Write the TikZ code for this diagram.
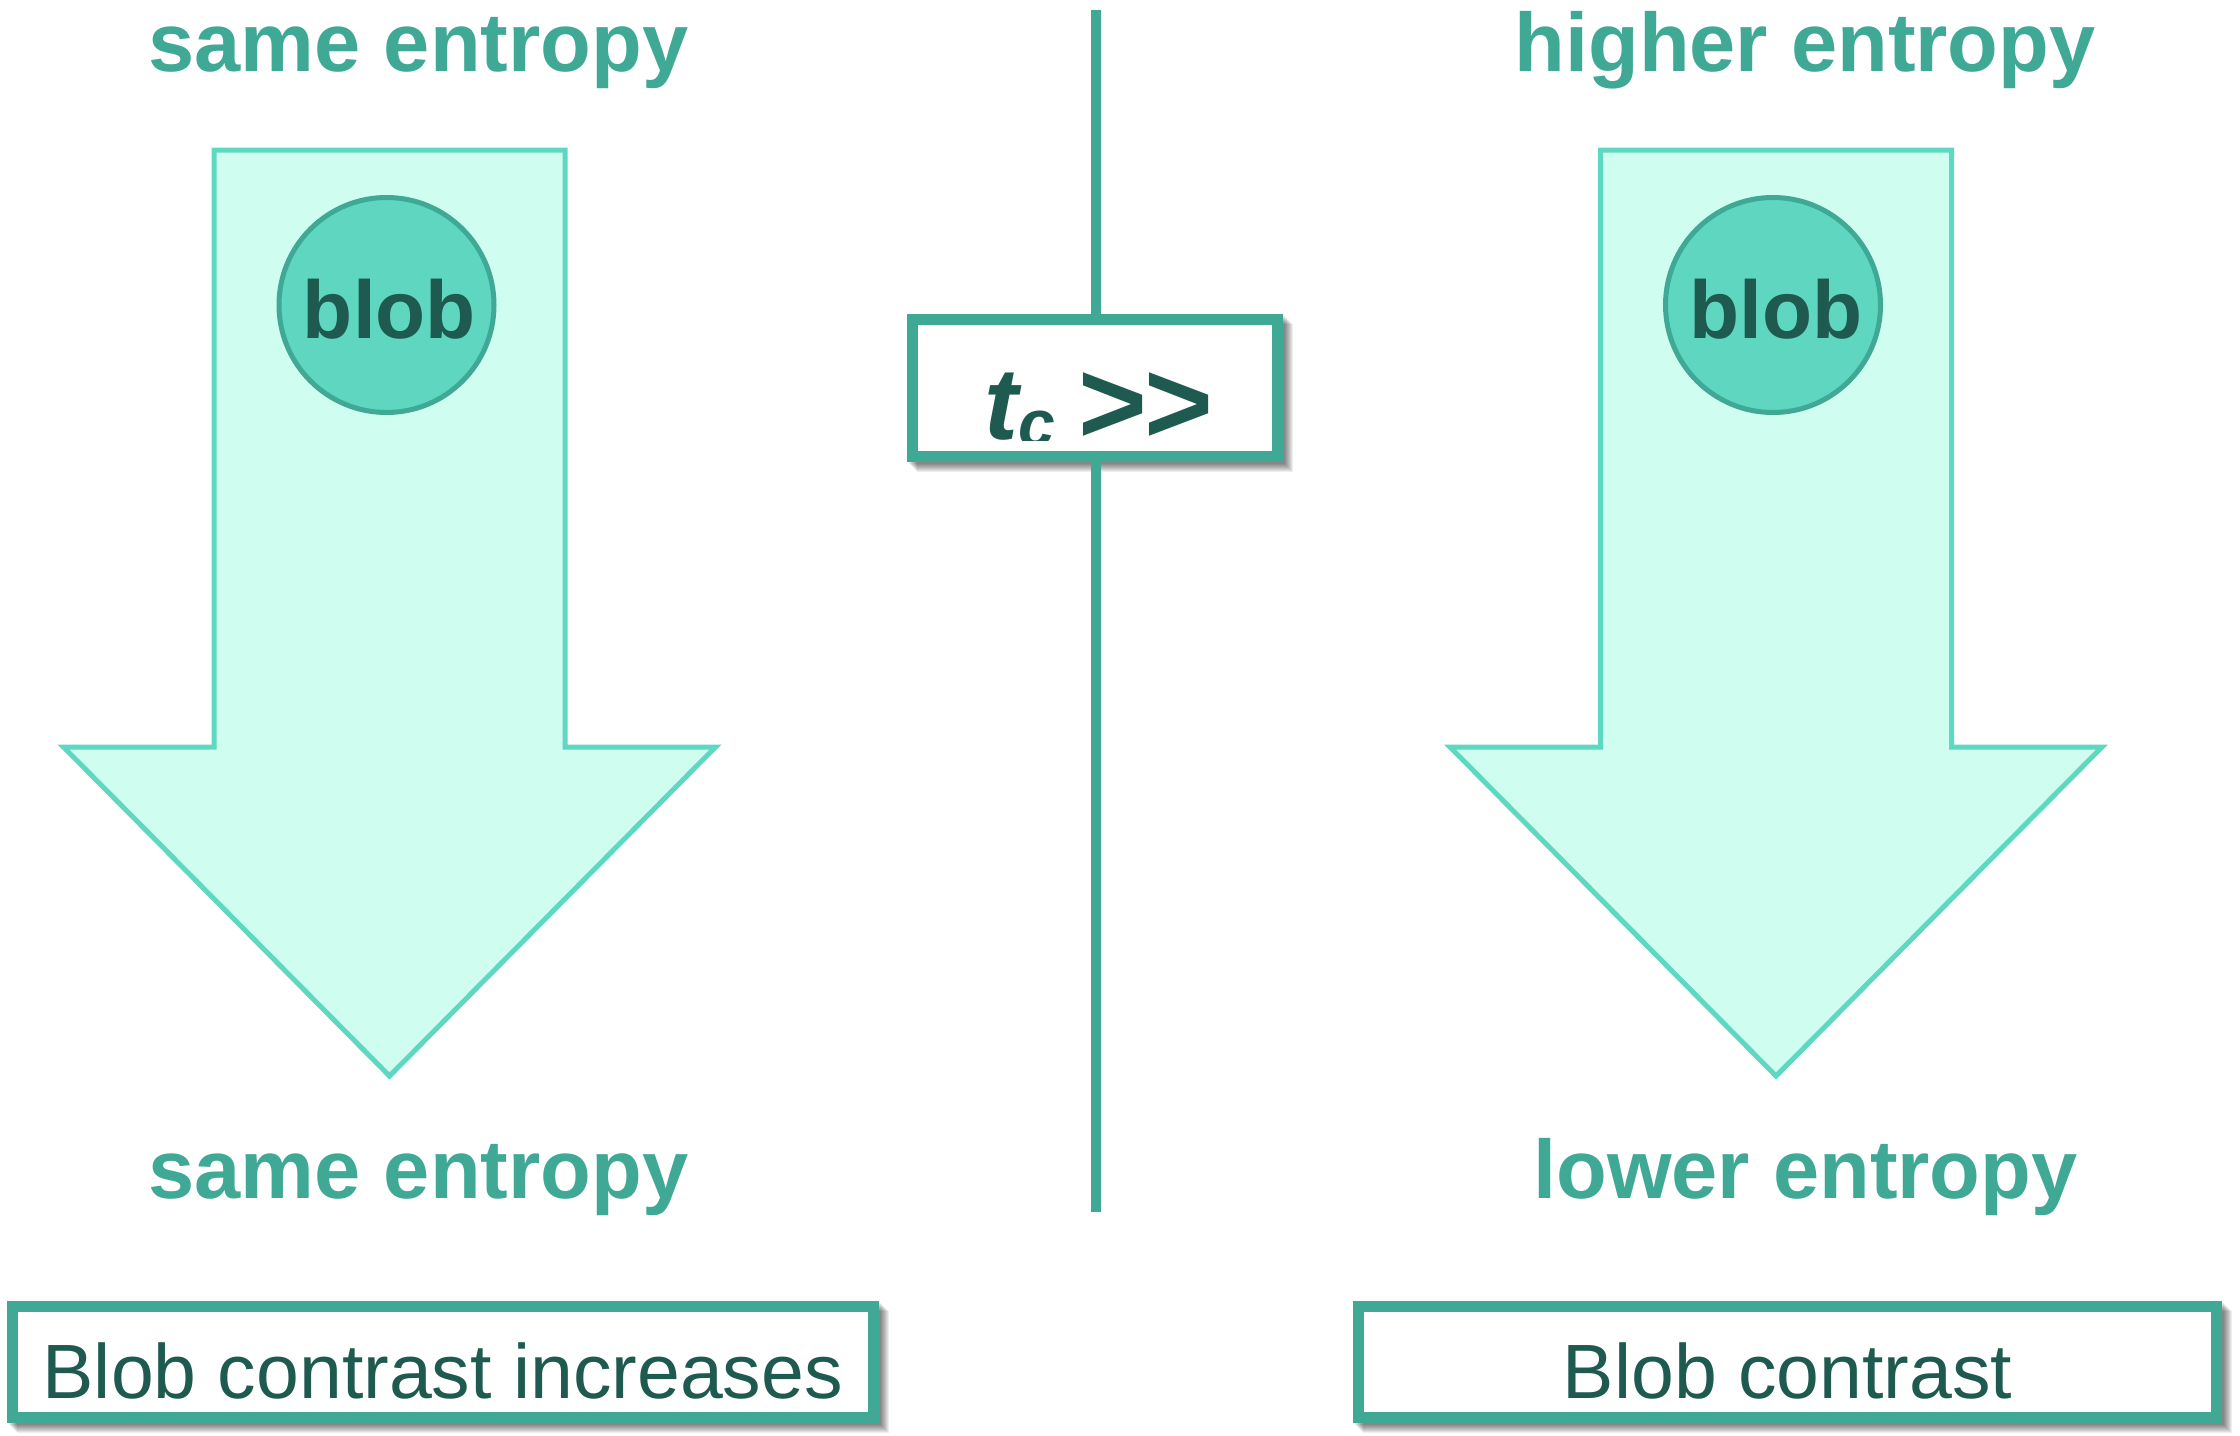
\documentclass[tikz,border=0pt]{standalone}
\usepackage{fontspec}
\setmainfont{Liberation Sans}
\usetikzlibrary{calc}
\definecolor{tealline}{RGB}{63,169,150}
\definecolor{mintstroke}{RGB}{94,216,193}
\definecolor{mintfill}{RGB}{207,253,240}
\definecolor{blobfill}{RGB}{94,214,192}
\definecolor{darkgreen}{RGB}{30,90,79}
\pgfdeclarelayer{paper}
\pgfdeclarelayer{bg}
\pgfsetlayers{paper,bg,main}
\tikzset{
  bigarrow/.style={draw=mintstroke, fill=mintfill, line width=5pt, line join=miter},
  blobcircle/.style={circle, draw=tealline, fill=blobfill, line width=5pt, minimum size=215pt, inner sep=0pt},
  blobtext/.style={anchor=base, text=darkgreen, font=\fontsize{82}{82}\selectfont\bfseries, inner sep=0pt},
  heading/.style={anchor=base, text=tealline, font=\fontsize{83}{83}\selectfont\bfseries, inner sep=0pt},
  framebox/.style={draw=tealline, fill=white, line width=11pt, rectangle, inner sep=0pt},
  bottomlabel/.style={framebox, text=darkgreen, font=\fontsize{77}{77}\selectfont, text height=72pt, text depth=0pt, minimum height=111pt},
  divider/.style={draw=tealline, line width=10pt},
}
\newcommand{\boxshadow}[1]{%
  \begin{pgfonlayer}{bg}
  \foreach \d in {2,...,10}{
    \fill[black, opacity=0.065] ($(#1.south west)+(\d,\d)$) rectangle ($(#1.north east)+(\d,\d)$);
  }
  \end{pgfonlayer}}
\begin{document}
\begin{tikzpicture}[x=1pt,y=-1pt]
\begin{pgfonlayer}{paper}
\fill[white] (0,0) rectangle (2240,1435);
\end{pgfonlayer}
\useasboundingbox (0,0) rectangle (2240,1435);

% vertical divider
\coordinate (vtop) at (1096,10);
\coordinate (vbot) at (1096,1212);
\draw[divider] (vtop) -- (vbot);

% left arrow
\draw[bigarrow] (214,150) -- (565,150) -- (565,747) -- (715.5,747) -- (389.5,1076) -- (63.5,747) -- (214,747) -- cycle;
% right arrow
\draw[bigarrow] (1600.5,150) -- (1951.5,150) -- (1951.5,747) -- (2102,747) -- (1776,1076) -- (1450,747) -- (1600.5,747) -- cycle;

% blobs
\node[blobcircle] (blobL) at (386.5,305) {};
\node[blobtext] (blobLt) at (389.5,338) {blob};
\node[blobcircle] (blobR) at (1773,305) {};
\node[blobtext] (blobRt) at (1776,338) {blob};

% headings
\node[heading] (topL) at (418.5,71) {same entropy};
\node[heading] (topR) at (1805,71) {higher entropy};
\node[heading] (botL) at (418.5,1198) {same entropy};
\node[heading] (botR) at (1805.5,1198) {lower entropy};

% t_c box
\node[framebox, minimum width=365pt, minimum height=136.5pt] (tc) at (1094.5,387.75) {};
\boxshadow{tc}
\begin{scope}
\clip (912,320) rectangle (1277,440);
\node[anchor=base west, inner sep=0pt, text=darkgreen] (tctext) at (984,439)
  {{\fontsize{102}{102}\selectfont\bfseries\itshape t}\raisebox{-7pt}{\fontsize{66}{66}\selectfont\bfseries\itshape c}\kern24pt{\fontsize{118}{118}\selectfont\bfseries\raisebox{-4pt}{\mbox{>}\kern-3pt\mbox{>}}}};
\end{scope}

% bottom boxes
\node[bottomlabel, minimum width=860.5pt] (resL) at (442.75,1362) {Blob contrast increases};
\boxshadow{resL}
\node[bottomlabel, minimum width=858pt] (resR) at (1787.5,1362) {Blob contrast};
\boxshadow{resR}
\end{tikzpicture}
\end{document}
